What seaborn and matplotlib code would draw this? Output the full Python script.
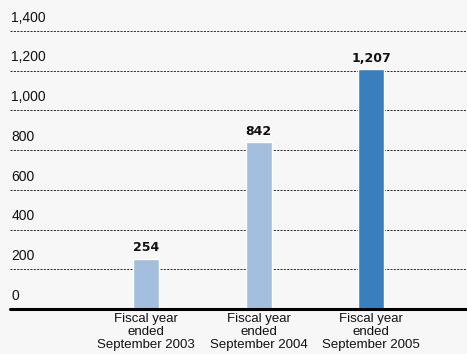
import pandas as pd
import matplotlib.pyplot as plt
import matplotlib.transforms as mtrans
import seaborn as sns

categories = ['Fiscal year\nended\nSeptember 2003',
              'Fiscal year\nended\nSeptember 2004',
              'Fiscal year\nended\nSeptember 2005']
values = [254, 842, 1207]
value_labels = ['254', '842', '1,207']
bar_colors = ['#a4bedd', '#a4bedd', '#3a7fbd']
yticks = [0, 200, 400, 600, 800, 1000, 1200, 1400]
ytick_labels = ['0', '200', '400', '600', '800', '1,000', '1,200', '1,400']

sns.set_style('white')
plt.rcParams['font.family'] = ['Liberation Sans', 'DejaVu Sans']
plt.rcParams['lines.scale_dashes'] = False

df = pd.DataFrame({'cat': categories, 'val': values})

fig = plt.figure(figsize=(4.67, 3.54), dpi=100, facecolor='#f7f7f7')
ax = fig.add_axes([10 / 467, 1 - 309 / 354, 457 / 467, 278 / 354])
ax.set_facecolor('#f7f7f7')

sns.barplot(data=df, x='cat', y='val', hue='cat', palette=bar_colors,
            width=0.231, legend=False, ax=ax, saturation=1)

ax.set_xlim(-1.209, 2.853)
ax.set_ylim(0, 1400)

# dotted grid lines, solid base line
for t in yticks[1:]:
    ax.axhline(t, color='#2a2a2a', lw=0.7, ls=(0, (1.5, 0.9)), zorder=0)
ax.axhline(0, color='black', lw=2.2, zorder=3, clip_on=False)

trans = mtrans.blended_transform_factory(ax.transAxes, ax.transData)
for t, lab in zip(yticks, ytick_labels):
    ax.annotate(lab, xy=(0, t), xycoords=trans, xytext=(1, 4.5),
                textcoords='offset points', ha='left', va='bottom',
                fontsize=10, color='#111111')

for i, (v, lab) in enumerate(zip(values, value_labels)):
    ax.annotate(lab, xy=(i, v), xytext=(0, 3), textcoords='offset points',
                ha='center', va='bottom', fontsize=9, fontweight='bold',
                family='DejaVu Sans', color='#111111')

ax.set_xticks(range(len(categories)))
ax.set_xticklabels(categories, fontsize=9.5, linespacing=1.08, color='#111111')
ax.tick_params(axis='x', length=0, pad=3)
ax.set_yticks([])
ax.set_xlabel('')
ax.set_ylabel('')
sns.despine(ax=ax, left=True, bottom=True)

fig.savefig('out.png', dpi=100, facecolor=fig.get_facecolor())
